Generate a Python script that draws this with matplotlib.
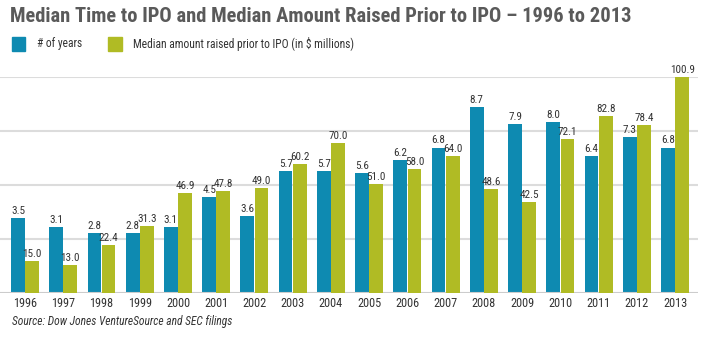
import matplotlib
matplotlib.use("Agg")
import matplotlib.pyplot as plt
import numpy as np
from matplotlib.patches import Rectangle

years = ["1996", "1997", "1998", "1999", "2000", "2001", "2002", "2003", "2004",
         "2005", "2006", "2007", "2008", "2009", "2010", "2011", "2012", "2013"]
num_years = [3.5, 3.1, 2.8, 2.8, 3.1, 4.5, 3.6, 5.7, 5.7, 5.6, 6.2, 6.8, 8.7, 7.9, 8.0, 6.4, 7.3, 6.8]
amount_raised = [15.0, 13.0, 22.4, 31.3, 46.9, 47.8, 49.0, 60.2, 70.0, 51.0, 58.0, 64.0,
                 48.6, 42.5, 72.1, 82.8, 78.4, 100.9]

plt.rcParams["font.family"] = ["Roboto Condensed", "DejaVu Sans"]

BLUE = "#0e8ab1"
GREEN = "#b0bb24"
GRAY_TXT = "#333333"

W, H = 716, 338
fig = plt.figure(figsize=(W / 100, H / 100), dpi=100)
ax_l, ax_r, ax_b, ax_t = 0, 698, 293, 77
ax = fig.add_axes([ax_l / W, 1 - ax_b / H, (ax_r - ax_l) / W, (ax_b - ax_t) / H])
ax2 = ax.twinx()

x = np.arange(len(years))
bw = 0.36
off = 0.185
ax.bar(x - off, num_years, width=bw, color=BLUE, zorder=3)
ax2.bar(x + off, amount_raised, width=bw, color=GREEN, zorder=3)

ax.set_xlim(-0.654, 17.6)
ax.set_ylim(0, 10.1)
ax2.set_ylim(0, 101)

for gy in [2.525, 5.05, 7.575, 10.1]:
    ax.axhline(gy, color="#dcdcdc", lw=1.5, zorder=1)
ax.axhline(0, color="#cccccc", lw=1.5, zorder=4)

for a in (ax, ax2):
    for s in a.spines.values():
        s.set_visible(False)
    a.set_yticks([])
ax.set_xticks(x)
ax.set_xticklabels(years, fontsize=8.8, color=GRAY_TXT)
ax.tick_params(axis="x", length=0, pad=3)

for xi, v in zip(x, num_years):
    ax.annotate(f"{v:.1f}", (xi - off, v), xytext=(0, 1.5), textcoords="offset points",
                ha="center", va="bottom", fontsize=8, color=GRAY_TXT, zorder=5)
for xi, v in zip(x, amount_raised):
    ax2.annotate(f"{v:.1f}", (xi + off, v), xytext=(0, 1.5), textcoords="offset points",
                 ha="center", va="bottom", fontsize=8, color=GRAY_TXT, zorder=5)

fig.text(10 / W, 1 - 16 / H, "Median Time to IPO and Median Amount Raised Prior to IPO \u2013 1996 to 2013",
         fontsize=14.8, fontweight="bold", color="#5a5a5a", ha="left", va="center")

fig.patches.append(Rectangle((12 / W, 1 - 51 / H), 13 / W, 14 / H, transform=fig.transFigure,
                             color=BLUE, figure=fig))
fig.text(37 / W, 1 - 44 / H, "# of years", fontsize=8.3, color=GRAY_TXT, ha="left", va="center")
fig.patches.append(Rectangle((108 / W, 1 - 51 / H), 14 / W, 14 / H, transform=fig.transFigure,
                             color=GREEN, figure=fig))
fig.text(133 / W, 1 - 44 / H, "Median amount raised prior to IPO (in $ millions)", fontsize=8.3,
         color=GRAY_TXT, ha="left", va="center")

fig.text(12 / W, 1 - 322 / H, "Source: Dow Jones VentureSource and SEC filings", fontsize=8.3,
         style="italic", color=GRAY_TXT, ha="left", va="center")

fig.savefig("out.png", dpi=100)
